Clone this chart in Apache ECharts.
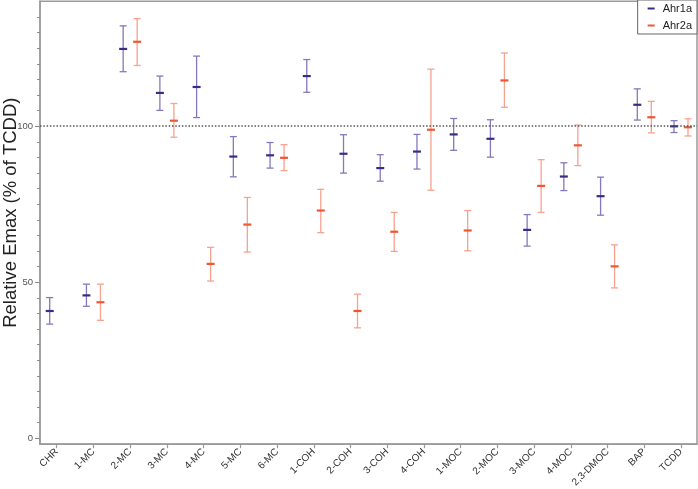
<!DOCTYPE html>
<html>
<head>
<meta charset="utf-8">
<script src="https://cdn.jsdelivr.net/npm/echarts@6/dist/echarts.min.js"></script>
<style>
html,body{margin:0;padding:0;background:#fff;}
#chart{width:698px;height:489px;}
</style>
</head>
<body>
<div id="chart"></div>
<script>
const categories = ['CHR','1-MC','2-MC','3-MC','4-MC','5-MC','6-MC','1-COH','2-COH','3-COH','4-COH','1-MOC','2-MOC','3-MOC','4-MOC','2,3-DMOC','BAP','TCDD'];

const ahr1aMean  = [40.7,45.7,124.7,110.6,112.5,90.2,90.6,116.0,91.1,86.5,91.8,97.3,95.9,66.7,83.8,77.5,106.8,99.9];
const ahr1aUpper = [45.0,49.3,132.1,116.0,122.4,96.6,94.7,121.3,97.2,90.8,97.3,102.4,102.0,71.6,88.2,83.6,111.9,101.7];
const ahr1aLower = [36.5,42.2,117.4,105.0,102.7,83.7,86.5,110.8,84.9,82.3,86.2,92.2,90.0,61.5,79.3,71.4,101.9,97.9];

const ahr2aMean  = [null,43.5,127.0,101.7,55.8,68.4,89.8,72.9,40.7,66.1,98.8,66.5,114.6,80.8,93.8,55.0,102.8,99.6];
const ahr2aUpper = [null,49.3,134.4,107.2,61.1,77.1,94.0,79.7,46.1,72.3,118.2,72.9,123.4,89.2,100.3,61.9,107.9,102.3];
const ahr2aLower = [null,37.7,119.4,96.4,50.3,59.6,85.7,65.8,35.3,59.8,79.4,60.0,106.0,72.3,87.3,48.1,97.8,96.8];

const yMajorTicks = [0, 50, 100];
const yMinorTicks = [0,5,10,15,20,25,30,35,40,45,50,55,60,65,70,75,80,85,90,95,100,105,110,115,120,125,130,135];
const referenceLine = 100;

const X_MIN = -0.455, X_MAX = 17.435;

function buildData(mean, lower, upper) {
  const out = [];
  for (let i = 0; i < categories.length; i++) {
    if (mean[i] == null) continue;
    out.push([i, mean[i], lower[i], upper[i]]);
  }
  return out;
}

function makeRender(offset, barColor, meanColor) {
  return function (params, api) {
    const idx = api.value(0);
    const pMean = api.coord([idx, api.value(1)]);
    const pLow = api.coord([idx, api.value(2)]);
    const pHigh = api.coord([idx, api.value(3)]);
    const x = pMean[0] + offset;
    const capW = 3.5;
    const meanW = 4;
    return {
      type: 'group',
      children: [
        { type: 'line', shape: { x1: x, y1: pHigh[1], x2: x, y2: pLow[1] }, style: { stroke: barColor, lineWidth: 1.3 } },
        { type: 'line', shape: { x1: x - capW, y1: pHigh[1], x2: x + capW, y2: pHigh[1] }, style: { stroke: barColor, lineWidth: 1.3 } },
        { type: 'line', shape: { x1: x - capW, y1: pLow[1], x2: x + capW, y2: pLow[1] }, style: { stroke: barColor, lineWidth: 1.3 } },
        { type: 'line', shape: { x1: x - meanW, y1: pMean[1], x2: x + meanW, y2: pMean[1] }, style: { stroke: meanColor, lineWidth: 2.2 } }
      ]
    };
  };
}

function renderYTick(params, api) {
  const v = api.value(0);
  const p = api.coord([X_MIN, v]);
  const len = yMajorTicks.indexOf(v) >= 0 ? 5 : 3;
  return {
    type: 'line',
    shape: { x1: p[0] - len, y1: Math.round(p[1]) + 0.5, x2: p[0], y2: Math.round(p[1]) + 0.5 },
    style: { stroke: '#8c8c8c', lineWidth: 1 }
  };
}

const blueBar = '#8479bd', blueMean = '#3a2b85';
const redBar = '#f6a28e', redMean = '#ef5634';
const font = 'Liberation Sans, Arial, sans-serif';

const chart = echarts.init(document.getElementById('chart'));
chart.setOption({
  animation: false,
  textStyle: { fontFamily: font },
  grid: { left: 40, right: 1, top: 1.2, bottom: 44.8, show: true, borderColor: '#9a9a9a', borderWidth: 1.5, containLabel: false, outerBoundsMode: 'none' },
  legend: {
    data: ['Ahr1a', 'Ahr2a'],
    orient: 'vertical',
    right: 1, top: 0,
    padding: [3, 5, 3, 10],
    itemGap: 6,
    itemWidth: 7, itemHeight: 2,
    icon: 'rect',
    borderColor: '#666', borderWidth: 1,
    backgroundColor: '#fff',
    textStyle: { fontSize: 11, color: '#222', fontFamily: font, padding: [0, 0, 0, 3] }
  },
  xAxis: {
    type: 'value',
    min: X_MIN, max: X_MAX,
    splitLine: { show: false },
    axisLine: { show: true, onZero: false, lineStyle: { color: '#9a9a9a', width: 1.5 } },
    axisTick: { show: true, length: 4, lineStyle: { color: '#9a9a9a', width: 1.2 }, customValues: categories.map((c, i) => i) },
    axisLabel: {
      rotate: 45, fontSize: 10, color: '#333', margin: 6, fontFamily: font,
      customValues: categories.map((c, i) => i),
      formatter: v => categories[Math.round(v)]
    }
  },
  yAxis: {
    type: 'value', min: -2, max: 140, position: 'left',
    name: 'Relative Emax (% of TCDD)', nameLocation: 'middle', nameGap: 20, nameMoveOverlap: false,
    nameTextStyle: { fontSize: 18.5, color: '#222', fontFamily: font, padding: [0, 0, 0, 20] },
    splitLine: { show: false },
    axisLine: { show: true, onZero: false, lineStyle: { color: '#9a9a9a', width: 1.5 } },
    axisTick: { show: false },
    axisLabel: { fontSize: 9.5, color: '#555', margin: 7, customValues: yMajorTicks }
  },
  series: [
    {
      name: 'yTicks', type: 'custom',
      renderItem: renderYTick,
      encode: { y: 0 },
      data: yMinorTicks.map(v => [v]),
      clip: false, silent: true,
      z: 1
    },
    {
      name: 'Ahr1a', type: 'custom',
      itemStyle: { color: blueMean },
      renderItem: makeRender(-7, blueBar, blueMean),
      encode: { x: 0, y: [1, 2, 3] },
      data: buildData(ahr1aMean, ahr1aLower, ahr1aUpper),
      markLine: {
        silent: true, symbol: 'none', label: { show: false },
        lineStyle: { color: '#555', type: [1.5, 1.8], width: 1.5 },
        data: [{ yAxis: referenceLine }]
      },
      z: 3
    },
    {
      name: 'Ahr2a', type: 'custom',
      itemStyle: { color: redMean },
      renderItem: makeRender(7, redBar, redMean),
      encode: { x: 0, y: [1, 2, 3] },
      data: buildData(ahr2aMean, ahr2aLower, ahr2aUpper),
      z: 3
    }
  ]
});
</script>
</body>
</html>
